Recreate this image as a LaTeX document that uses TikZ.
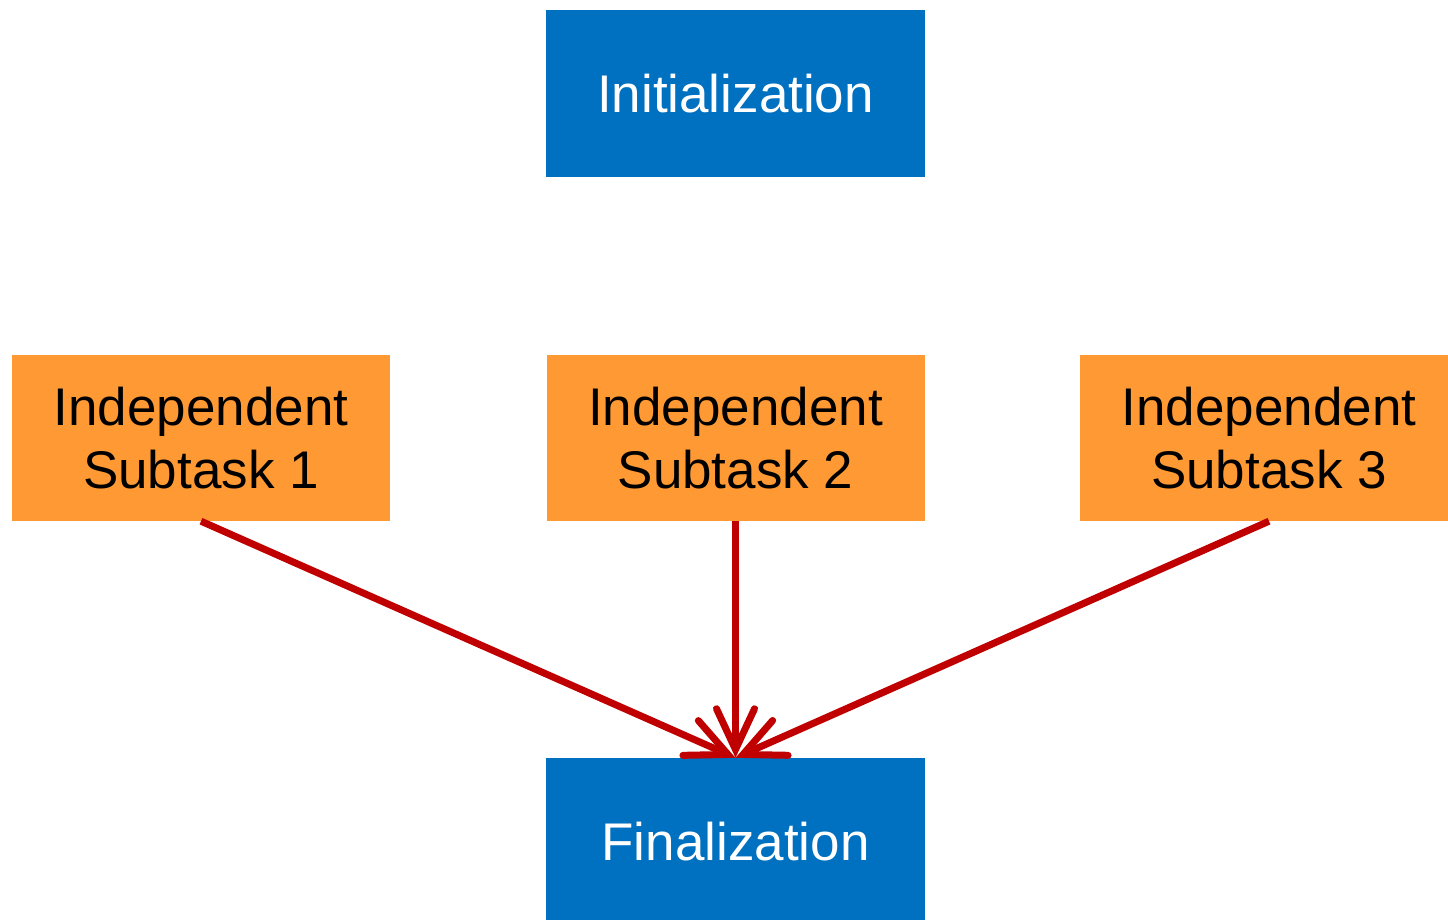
\documentclass[tikz,border=0pt]{standalone}
\usepackage{fontspec}
\setmainfont{Liberation Sans}
\usetikzlibrary{arrows.meta}
\definecolor{boxblue}{RGB}{0,112,192}
\definecolor{boxorange}{RGB}{255,153,51}
\definecolor{arrowred}{RGB}{192,0,0}
\begin{document}
\begin{tikzpicture}[x=1pt,y=-1pt,
  bluebox/.style={fill=boxblue, text=white, minimum width=379pt, minimum height=167pt, inner sep=0pt, align=center, font=\fontsize{53}{63}\selectfont},
  orangebox/.style={fill=boxorange, text=black, minimum width=378pt, minimum height=166pt, inner sep=0pt, align=center, font=\fontsize{53}{63}\selectfont},
  flow/.style={draw=arrowred, line width=7pt, -{Straight Barb[angle=50:45pt, line cap=round]}}]
\useasboundingbox (0,0) rectangle (1448,920);
\clip (0,0) rectangle (1448,920);
\node[bluebox] (init) at (735.5,93.5) {\raisebox{-2pt}{Initialization}};
\node[orangebox] (s1) at (201,438) {Independent\\Subtask 1};
\node[orangebox] (s2) at (735.5,438) {Independent\\Subtask 2};
\node[orangebox] (s3) at (1269,438) {Independent\\Subtask 3};
\node[bluebox] (fin) at (735.5,841.5) {\raisebox{-3pt}{Finalization}};
\draw[flow] (s1.south) -- (fin.north);
\draw[flow] (s2.south) -- (fin.north);
\draw[flow] (s3.south) -- (fin.north);
\end{tikzpicture}
\end{document}
